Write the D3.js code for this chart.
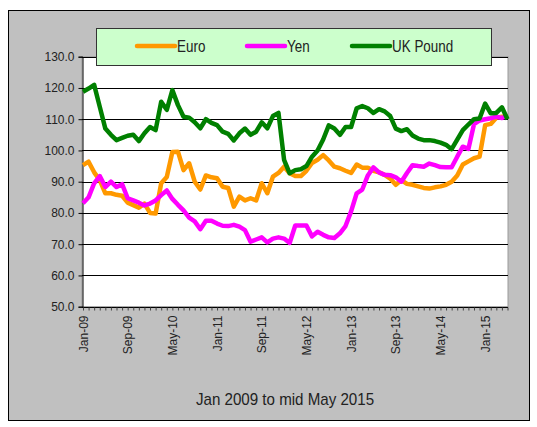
<!DOCTYPE html>
<html>
<head>
<meta charset="utf-8">
<script src="https://cdn.jsdelivr.net/npm/d3@7"></script>
<style>
  body { margin: 0; background: #fff; }
  svg text { font-family: "Liberation Sans", Arial, sans-serif; fill: #222; }
</style>
</head>
<body>
<svg width="537" height="427"></svg>
<script>
// monthly index values, Jan 2009 .. May 2015
let euro = [95.3, 96.4, 93, 90.5, 86.3, 86.3, 85.8, 85.5, 83.3, 82.5, 81.7, 83, 80, 79.8, 89.5, 91.5,
	99.5, 99.6, 93.7, 95.9, 90, 87.5, 92, 91.4, 91.1, 88.4, 88, 82, 85.2, 84, 84.7, 84,
	89.5, 86.3, 91.6, 92.8, 94.8, 92.7, 91.8, 91.8, 93.5, 96, 97, 98.5, 96.8, 94.8, 94.3, 93.5,
	92.8, 95.5, 94.5, 94.5, 93.5, 93, 92.2, 91, 89, 90.5, 89.3, 89, 88.5, 88, 87.8, 88.2,
	88.5, 89, 90, 92, 95.5, 96.5, 97.5, 98, 108.1, 108.5, 110.5, 110.8, 110.8];
let yen = [83.1, 85, 89.5, 91.8, 88.3, 90, 88.3, 89.2, 84.7, 84, 83.3, 82.4, 83, 84, 85.7, 87.2,
	84.5, 82.6, 80.8, 78.5, 77.3, 74.8, 77.5, 77.5, 76.6, 75.9, 75.8, 76.2, 75.6, 74.5, 70.8, 71.5,
	72.2, 70.6, 71.8, 72.2, 71.8, 70.4, 76, 76, 76, 72.5, 74, 73, 72.2, 72, 73.5, 75.8,
	80.5, 86.3, 87.5, 92, 94.6, 93, 92.2, 92.1, 91.4, 90, 92.8, 95.3, 95, 94.8, 95.8, 95.3,
	94.7, 94.6, 94.6, 98, 101.2, 100.5, 108.4, 109.6, 110, 110.3, 110.8, 110.4, 111.2];
let pound = [118.8, 119.8, 121, 114, 107, 105, 103.3, 104, 104.7, 105, 103, 105.5, 107.5, 106.5, 115.6, 113,
	119.3, 114.5, 110.8, 110.5, 109, 107.1, 110, 108.8, 108.1, 106, 105.3, 103.2, 105.5, 107, 105, 106,
	109, 107.1, 111, 112, 97, 92.7, 93.7, 94, 95, 98, 100, 103.5, 108, 107, 105, 107.5,
	107.5, 113.5, 114.2, 113.5, 112, 113.2, 112.5, 111, 107, 106.2, 106.8, 104.8, 103.8, 103.3, 103.3, 103,
	102.5, 101.8, 100.4, 103.5, 106.5, 108.3, 110, 110.2, 115, 111.9, 112, 113.8, 110];

let seriesNames = ["Euro", "Yen", "UK Pound"];
let seriesColors = ["#ff9900", "#ff00ff", "#008000"];
let yTicks = [50, 60, 70, 80, 90, 100, 110, 120, 130];
let months = d3.timeMonth.range(new Date(2009, 0, 1), new Date(2015, 5, 1));
let title = "Jan 2009 to mid May 2015";

let svg = d3.select("svg");
let fmtMonth = d3.timeFormat("%b-%y");

// grey chart panel
svg.append("rect")
	.attr("x", 8.5).attr("y", 10.5)
	.attr("width", 521).attr("height", 410)
	.attr("fill", "#c0c0c0").attr("stroke", "#000");

let pLeft = 82, pRight = 508, pTop = 56.7, pBottom = 306.7;

let x = d3.scalePoint().domain(months).range([pLeft + 1, pRight - 0.5]);
let y = d3.scaleLinear().domain([50, 130]).range([pBottom, pTop]);

svg.append("rect")
	.attr("x", pLeft).attr("y", pTop)
	.attr("width", pRight - pLeft).attr("height", pBottom - pTop)
	.attr("fill", "#fff").attr("stroke", "#9a9a9a");

// gridlines
svg.append("g")
	.selectAll("line")
	.data(yTicks.slice(1))
	.enter().append("line")
		.attr("x1", pLeft).attr("x2", pRight)
		.attr("y1", d => Math.round(y(d)) + 0.5).attr("y2", d => Math.round(y(d)) + 0.5)
		.attr("stroke", "#000").attr("stroke-width", 1);

// y axis
let yAxis = svg.append("g")
	.attr("transform", `translate(${pLeft + 0.5},0)`)
	.call(d3.axisLeft(y).tickValues(yTicks).tickSize(4).tickPadding(4).tickFormat(d3.format(".1f")));
yAxis.selectAll("text").attr("font-size", 12).attr("fill", "#222");
yAxis.select(".domain").attr("stroke", "#000");

// x axis
let xAxis = svg.append("g")
	.attr("transform", `translate(0,${Math.round(pBottom) + 0.5})`)
	.call(d3.axisBottom(x).tickSize(3).tickFormat((d, i) => i % 8 === 0 ? fmtMonth(d) : ""));
xAxis.select(".domain").attr("d", `M${pLeft},0H${pRight}`).attr("stroke", "#000");
xAxis.selectAll(".tick line").attr("stroke", "#444");
xAxis.selectAll("text")
	.attr("font-size", 12).attr("fill", "#222")
	.attr("text-anchor", "end")
	.attr("transform", "rotate(-90)")
	.attr("x", -8).attr("y", 0).attr("dy", "0.35em");

// lines
let line = d3.line()
	.x((d, i) => x(months[i]))
	.y(d => y(d))
	.curve(d3.curveLinear);

let lineData = [euro, yen, pound];
svg.append("g")
	.selectAll("path")
	.data(lineData)
	.enter().append("path")
		.attr("fill", "none")
		.attr("stroke", (d, i) => seriesColors[i])
		.attr("stroke-width", 4.5)
		.attr("stroke-linejoin", "round")
		.attr("d", line);

// legend
let legend = svg.append("g");
legend.append("rect")
	.attr("x", 96.5).attr("y", 28.5)
	.attr("width", 395).attr("height", 37)
	.attr("fill", "#ccffcc").attr("stroke", "#333");

let legendX = [137, 247, 352];
let items = legend.selectAll("g.item")
	.data(seriesNames)
	.enter().append("g").attr("class", "item")
	.attr("transform", (d, i) => `translate(${legendX[i]},46)`);
items.append("line")
	.attr("x1", 0).attr("x2", 38)
	.attr("stroke", (d, i) => seriesColors[i])
	.attr("stroke-width", 4.5)
	.attr("stroke-linecap", "round");
// excel draws these a bit condensed
items.append("text")
	.attr("transform", "translate(40,6) scale(0.84,1)")
	.attr("font-size", 16)
	.text(d => d);

svg.append("text")
	.attr("transform", "translate(285,405) scale(0.89,1)")
	.attr("text-anchor", "middle")
	.attr("font-size", 17)
	.text(title);
</script>
</body>
</html>
